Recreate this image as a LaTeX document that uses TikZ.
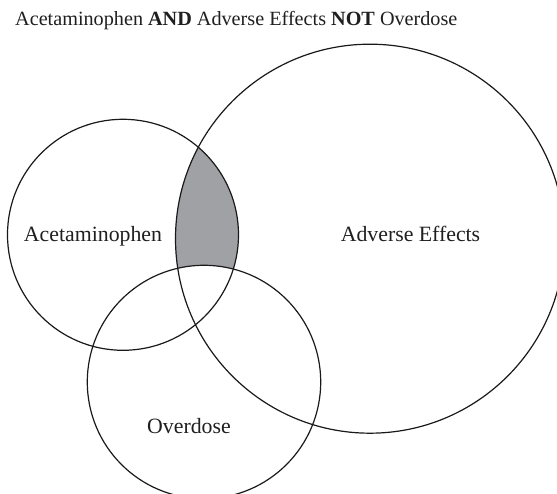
\documentclass[tikz,border=0pt]{standalone}
\usepackage{fontspec}
\setmainfont{Liberation Serif}
\begin{document}
\begin{tikzpicture}[x=1pt,y=1pt,
  ring/.style={draw=black!90, line width=1.2pt, circle, inner sep=0pt},
  lbl/.style={font=\fontsize{21.8}{24}\selectfont, text=black!88, anchor=base},
  ttl/.style={font=\fontsize{20.2}{23}\selectfont, text=black!88, anchor=base west, inner sep=0pt}]
\useasboundingbox (0,0) rectangle (557,494);
\clip (0,0) rectangle (557,494);
% shaded region: Acetaminophen AND Adverse Effects NOT Overdose
\begin{scope}
  \clip (123,259.2) circle (115.5);
  \clip (370,255.3) circle (194.5);
  \fill[fill={rgb,255:red,160;green,161;blue,165}] (0,0) rectangle (557,494);
  \fill[white] (204,112) circle (116.7);
\end{scope}
\node[ring, minimum size=231pt] (acet) at (123,259.2) {};
\node[ring, minimum size=389pt] (adv) at (370,255.3) {};
\node[ring, minimum size=233.4pt] (over) at (204,112) {};
\node[lbl] (acetl) at (93,252.3) {Acetaminophen};
\node[lbl] (advl) at (410.5,252.3) {Adverse Effects};
\node[lbl] (overl) at (189,60.7) {Overdose};
\node[ttl] (title) at (15,468) {Acetaminophen \textbf{AND} Adverse Effects \textbf{NOT} Overdose};
\end{tikzpicture}
\end{document}
